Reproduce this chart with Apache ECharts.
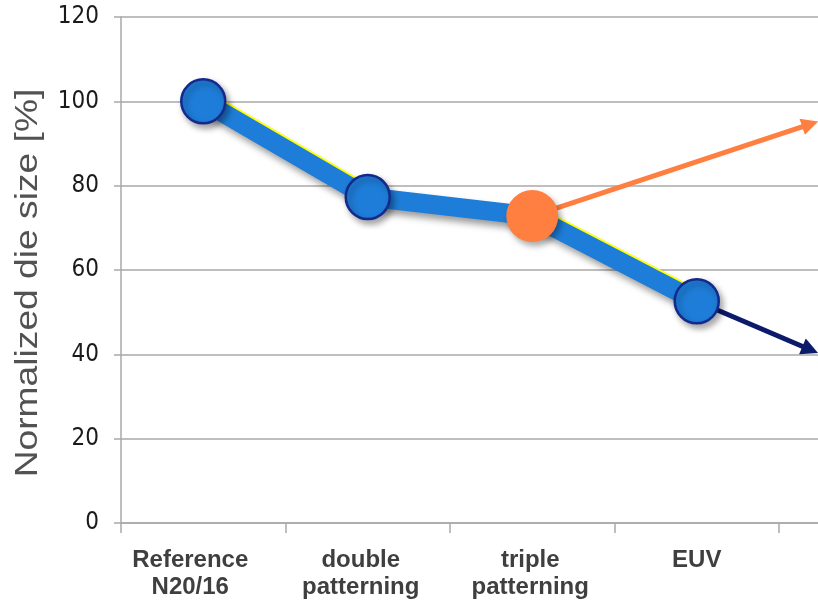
<!DOCTYPE html>
<html>
<head>
<meta charset="utf-8">
<script src="https://cdn.jsdelivr.net/npm/echarts@6/dist/echarts.min.js"></script>
<style>
html,body{margin:0;padding:0;background:#fff;}
#chart{width:818px;height:600px;}
</style>
</head>
<body>
<div id="chart"></div>
<script>
// ---- data ----
const categories = ['Reference\nN20/16', 'double\npatterning', 'triple\npatterning', 'EUV', ''];
const dieSize = [100, 77.3, 72.8, 52.6];
const yTickValues = [0, 20, 40, 60, 80, 100, 120];
const yAxisTitle = 'Normalized die size [%]';
// projected trends (x = category index, y = %)
const multiPatternTrendX = [2, 3.69];
const multiPatternTrendY = [72.8, 94.6];
const euvTrendX = [3, 3.69];
const euvTrendY = [52.6, 41.1];
const highlightIndex = 2; // triple patterning marker

// ---- styles ----
const BLUE = '#1e7dd8';
const NAVY_BORDER = '#132a8c';
const ORANGE = '#ff7f41';
const NAVY_ARROW = '#0b1a6b';
const GRID_GREY = '#a9a9a9';
const labelRightPad = [26, 14, 4, 0, 0]; // small horizontal nudges of category labels

const pts = dieSize.map((v, i) => [i, v]);

const chart = echarts.init(document.getElementById('chart'), null, {renderer: 'canvas'});

const scatterData = pts.map((p, i) => i === highlightIndex
  ? {value: p, symbolSize: 52, itemStyle: {color: ORANGE, borderWidth: 0}}
  : {value: p});

const categoryData = categories.map((c, i) => ({
  value: c,
  textStyle: {padding: [0, labelRightPad[i], 0, 0]}
}));

chart.setOption({
  animation: false,
  backgroundColor: '#fff',
  grid: {left: 121, top: 17, width: 822.5, height: 506, outerBoundsMode: 'none', containLabel: false},
  xAxis: [
    {
      type: 'category',
      data: categoryData,
      boundaryGap: true,
      axisLine: {show: true, onZero: false, lineStyle: {color: GRID_GREY, width: 1.5}},
      axisTick: {show: true, length: 10, inside: false, lineStyle: {color: GRID_GREY, width: 1.5}},
      axisLabel: {
        margin: 24, color: '#3f3f3f', fontWeight: 'bold', fontSize: 24,
        fontFamily: '"Liberation Sans", Arial, sans-serif', lineHeight: 27, interval: 0
      },
      splitLine: {show: false}
    },
    {
      type: 'value', show: false, min: -0.5, max: categories.length - 0.5,
      splitLine: {show: false}
    }
  ],
  yAxis: {
    type: 'value',
    min: yTickValues[0],
    max: yTickValues[yTickValues.length - 1],
    interval: yTickValues[1] - yTickValues[0],
    axisLine: {show: true, onZero: false, lineStyle: {color: GRID_GREY, width: 1.5}},
    axisTick: {show: true, length: 7, lineStyle: {color: GRID_GREY, width: 1.5}},
    axisLabel: {
      margin: 22, color: '#1a1a1a', fontSize: 24,
      fontFamily: '"Liberation Sans Narrow", "DejaVu Sans Condensed", "Arial Narrow", sans-serif'
    },
    splitLine: {show: true, lineStyle: {color: GRID_GREY, width: 1.5}}
  },
  graphic: [{
    type: 'text',
    x: 28, y: 283,
    rotation: Math.PI / 2,
    scaleX: 1.2,
    style: {
      text: yAxisTitle,
      font: '31px "Liberation Sans", Arial, sans-serif',
      fill: '#525252',
      align: 'center',
      verticalAlign: 'middle'
    }
  }],
  series: [
    // trend arrows (below everything)
    {
      type: 'scatter', xAxisIndex: 1, data: [], silent: true,
      markLine: {
        silent: true, animation: false,
        symbol: ['none', 'triangle'], symbolSize: 17,
        label: {show: false},
        emphasis: {disabled: true},
        data: [
          [{coord: [multiPatternTrendX[0], multiPatternTrendY[0]], lineStyle: {color: ORANGE, width: 5, type: 'solid'}, itemStyle: {color: ORANGE}},
           {coord: [multiPatternTrendX[1], multiPatternTrendY[1]], itemStyle: {color: ORANGE}}],
          [{coord: [euvTrendX[0], euvTrendY[0]], lineStyle: {color: NAVY_ARROW, width: 5, type: 'solid'}, itemStyle: {color: NAVY_ARROW}},
           {coord: [euvTrendX[1], euvTrendY[1]], itemStyle: {color: NAVY_ARROW}}]
        ]
      }
    },
    // main thick line with drop shadow
    {
      type: 'line', xAxisIndex: 1, data: pts, showSymbol: false, symbol: 'none', silent: true,
      lineStyle: {color: BLUE, width: 19, shadowColor: 'rgba(0,0,0,0.4)', shadowBlur: 7, shadowOffsetX: 3, shadowOffsetY: 5}
    },
    // yellow glint on top edge of first and last segments
    {
      type: 'line', xAxisIndex: 1, data: pts.slice(0, 2), symbol: 'none', silent: true,
      lineStyle: {color: BLUE, width: 19, shadowColor: '#ffff00', shadowBlur: 0, shadowOffsetX: 1, shadowOffsetY: -1.5}
    },
    {
      type: 'line', xAxisIndex: 1, data: pts.slice(2, 4), symbol: 'none', silent: true,
      lineStyle: {color: BLUE, width: 19, shadowColor: '#ffff00', shadowBlur: 0, shadowOffsetX: 1, shadowOffsetY: -1.5}
    },
    // markers
    {
      type: 'scatter', xAxisIndex: 1, data: scatterData, symbol: 'circle', symbolSize: 44, silent: true,
      itemStyle: {
        color: BLUE, borderColor: NAVY_BORDER, borderWidth: 2.5, opacity: 1,
        shadowColor: 'rgba(0,0,0,0.35)', shadowBlur: 6, shadowOffsetX: 3, shadowOffsetY: 4
      },
      z: 5
    }
  ]
});
</script>
</body>
</html>
